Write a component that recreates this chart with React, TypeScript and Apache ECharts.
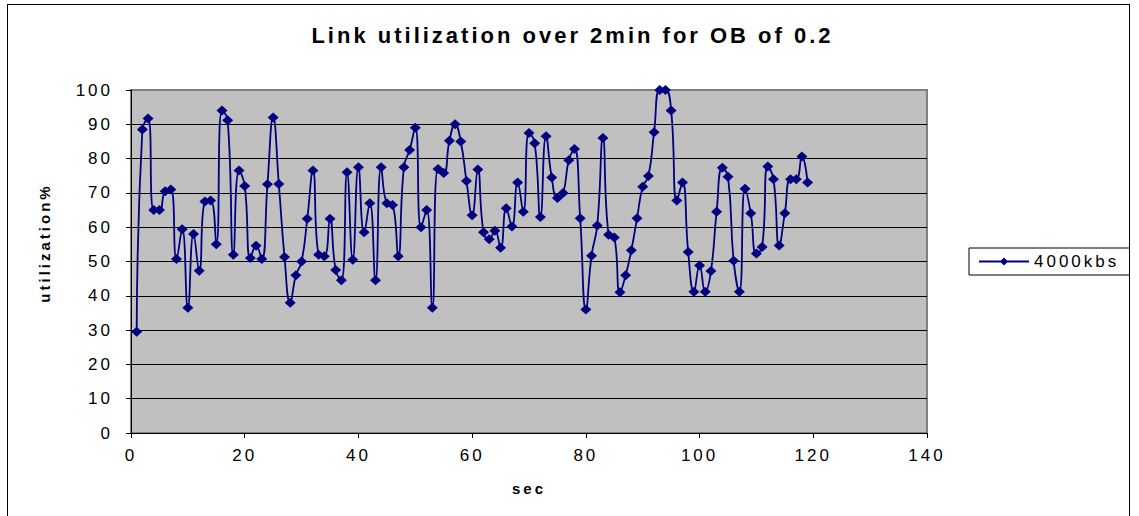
import React, { useEffect, useRef } from "react";
import * as echarts from "echarts";

const chartTitle = "Link utilization over 2min for OB of 0.2";
const seriesName = "4000kbs";
const xAxisName = "sec";
const yAxisName = "utilization%";
const xTicks = { min: 0, max: 140, interval: 20 };
const yTicks = { min: 0, max: 100, interval: 10 };

// utilization% sampled once per second, starting at sec 1
const utilization = [
  29.5, 88.5, 91.7, 65, 65, 70.5, 71, 50.7, 59.4, 36.5,
  58, 47.3, 67.5, 67.8, 55, 94, 91.2, 52, 76.5, 72,
  51, 54.6, 50.7, 72.5, 92, 72.6, 51.3, 38, 46, 50,
  62.5, 76.5, 52, 51.5, 62.5, 47.5, 44.5, 76, 50.5, 77.5,
  58.5, 67, 44.5, 77.5, 67, 66.5, 51.5, 77.5, 82.5, 89,
  60, 65, 36.5, 77, 75.8, 85.2, 90, 85, 73.5, 63.5,
  76.8, 58.5, 56.5, 59, 54, 65.5, 60.2, 73, 64.5, 87.5,
  84.5, 63, 86.5, 74.5, 68.5, 70, 79.5, 82.8, 62.6, 36,
  51.7, 60.5, 86, 57.8, 57, 41, 46, 53.3, 62.6, 71.8,
  74.9, 87.7, 100, 100, 94, 67.8, 73, 52.8, 41.2, 48.8,
  41.2, 47.2, 64.5, 77.3, 74.7, 50.2, 41.2, 71.2, 64.1, 52.3,
  54.2, 77.7, 74, 54.7, 64.1, 74, 74, 80.6, 73,
];
const firstSecond = 1;

const FONT = 'Arial, "Liberation Sans", sans-serif';

export default function App() {
  const ref = useRef<HTMLDivElement>(null);

  useEffect(() => {
    if (!ref.current) return;
    const chart = echarts.init(ref.current, undefined, { renderer: "svg" });
    const data = utilization.map((v, i) => [firstSecond + i, v]);
    const gridColors = Array.from({ length: 11 }, (_, i) => (i === 10 ? "#808080" : "#000000"));

    chart.setOption({
      animation: false,
      backgroundColor: "#ffffff",
      grid: {
        left: 123,
        top: 85,
        width: 796,
        height: 343,
        show: true,
        backgroundColor: "#C0C0C0",
        borderColor: "#808080",
        borderWidth: 2,
      },
      legend: {
        left: 961,
        top: 243,
        padding: [5, 34, 5, 9],
        backgroundColor: "#ffffff",
        borderColor: "#000000",
        borderWidth: 1,
        borderRadius: 0,
        itemWidth: 50,
        itemHeight: 10,
        itemGap: 0,
        textStyle: { fontFamily: FONT, fontSize: 17, color: "#000000" },
        data: [{ name: seriesName }],
      },
      graphic: [
        {
          type: "text",
          x: 564.5,
          y: 30,
          style: {
            text: chartTitle,
            align: "center",
            verticalAlign: "middle",
            fontFamily: FONT,
            fontSize: 22,
            fontWeight: "bold",
            fill: "#000000",
          },
        },
        {
          type: "text",
          x: 36,
          y: 238,
          rotation: Math.PI / 2,
          style: {
            text: yAxisName,
            align: "center",
            verticalAlign: "middle",
            fontFamily: FONT,
            fontSize: 15,
            fontWeight: "bold",
            fill: "#000000",
          },
        },
      ],
      xAxis: {
        type: "value",
        min: xTicks.min,
        max: xTicks.max,
        interval: xTicks.interval,
        name: xAxisName,
        nameLocation: "middle",
        nameGap: 48,
        nameTextStyle: { fontFamily: FONT, fontSize: 15, fontWeight: "bold", color: "#000000" },
        axisLine: { show: true, onZero: false, lineStyle: { color: "#000000", width: 1 } },
        axisTick: { show: true, inside: false, length: 5, lineStyle: { color: "#000000" } },
        axisLabel: { fontFamily: FONT, fontSize: 17, color: "#000000", margin: 14 },
        splitLine: { show: false },
      },
      yAxis: {
        type: "value",
        min: yTicks.min,
        max: yTicks.max,
        interval: yTicks.interval,
        axisLine: { show: true, lineStyle: { color: "#000000", width: 1 } },
        axisTick: { show: true, inside: false, length: 5, lineStyle: { color: "#000000" } },
        axisLabel: { fontFamily: FONT, fontSize: 17, color: "#000000", margin: 18 },
        splitLine: { show: true, lineStyle: { color: gridColors, width: 1 } },
      },
      series: [
        {
          name: seriesName,
          type: "line",
          data,
          smooth: 0.5,
          symbol: "diamond",
          symbolSize: [11, 10],
          showSymbol: true,
          lineStyle: { color: "#000080", width: 1.8 },
          itemStyle: { color: "#000080" },
        },
      ],
    });
    return () => chart.dispose();
  }, []);

  return (
    <>
      <style>{"#chartbox text{letter-spacing:3px}"}</style>
      <div
        id="chartbox"
        ref={ref}
        style={{
          position: "absolute",
          left: 7,
          top: 4,
          width: 1123,
          height: 520,
          boxSizing: "border-box",
          border: "1px solid #000000",
        }}
      />
    </>
  );
}
